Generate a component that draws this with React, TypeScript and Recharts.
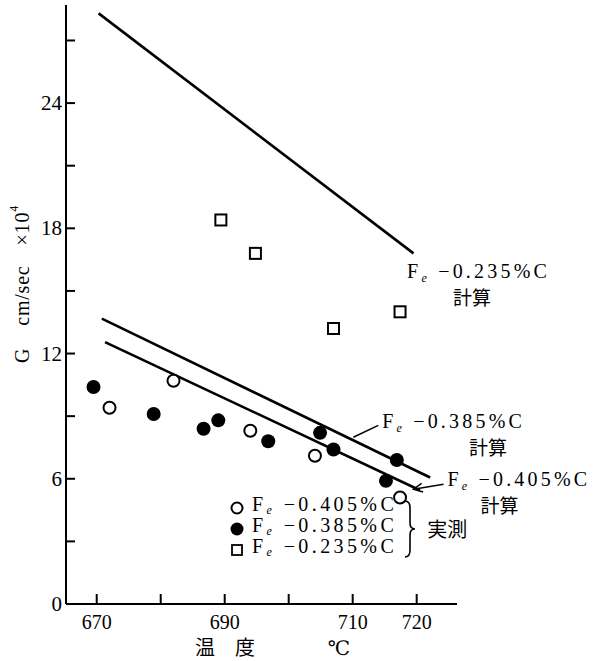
import React from 'react';
import {
  ComposedChart,
  Line,
  Scatter,
  XAxis,
  YAxis,
  ReferenceDot,
  ReferenceLine,
  Legend,
} from 'recharts';

const SERIF = "'Liberation Serif', 'DejaVu Serif', serif";
const CJK = "'Noto Sans CJK JP', 'Noto Sans CJK SC', sans-serif";

// axes (温度 °C / G cm/sec ×10^4)
const X_DOMAIN = [665.2, 726.3];
const Y_DOMAIN = [0, 28.7];
const X_TICKS = [670, 680, 690, 700, 710, 720];
const X_LABELED = [670, 690, 710, 720];
const Y_TICKS = [0, 3, 6, 9, 12, 15, 18, 21, 24, 27];
const Y_LABELED = [0, 6, 12, 18, 24];

// 実測 (measured)
const meas405 = [
  { t: 672.0, g: 9.4 },
  { t: 682.0, g: 10.7 },
  { t: 694.0, g: 8.3 },
  { t: 704.1, g: 7.1 },
  { t: 717.4, g: 5.1 },
];
const meas385 = [
  { t: 669.5, g: 10.4 },
  { t: 678.9, g: 9.1 },
  { t: 686.7, g: 8.4 },
  { t: 689.0, g: 8.8 },
  { t: 696.8, g: 7.8 },
  { t: 704.9, g: 8.2 },
  { t: 707.0, g: 7.4 },
  { t: 715.2, g: 5.9 },
  { t: 716.9, g: 6.9 },
];
const meas235 = [
  { t: 689.4, g: 18.4 },
  { t: 694.8, g: 16.8 },
  { t: 707.0, g: 13.2 },
  { t: 717.4, g: 14.0 },
];

// 計算 (calculated)
const calc235 = [{ t: 670.3, g: 28.3 }, { t: 719.5, g: 16.8 }];
const calc385 = [{ t: 670.8, g: 13.67 }, { t: 722.1, g: 6.06 }];
const calc405 = [{ t: 671.3, g: 12.55 }, { t: 720.5, g: 5.45 }];

// label anchors (left end of "Fe -x%C" text, on its baseline)
const LABELS = [
  { t: 718.5, g: 15.6, comp: '0.235', dx2: 65 },
  { t: 714.6, g: 8.43, comp: '0.385', dx2: 106 },
  { t: 724.8, g: 5.65, comp: '0.405', dx2: 52 },
];
const LEADER_385 = [{ x: 710.1, y: 7.99 }, { x: 714.0, y: 8.56 }];
const ARROW_405 = [{ x: 724.2, y: 5.74 }, { x: 719.5, y: 5.5 }];

const LEGEND_ORDER = ['0.405', '0.385', '0.235'];
const LEGEND_MARK: Record<string, string> = {
  '0.405': 'open',
  '0.385': 'filled',
  '0.235': 'square',
};

// plot box in px, only used to size the inward tick marks
const PLOT_W = 391;
const PLOT_H = 599;
const X_TICK_LEN = (10 / PLOT_H) * (Y_DOMAIN[1] - Y_DOMAIN[0]);
const Y_TICK_LEN = (9 / PLOT_W) * (X_DOMAIN[1] - X_DOMAIN[0]);

function OpenDot(p: any) {
  return <circle cx={p.cx} cy={p.cy} r={6} fill="#fff" stroke="#000" strokeWidth={2} />;
}
function FilledDot(p: any) {
  return <circle cx={p.cx} cy={p.cy} r={7} fill="#000" />;
}
function SquareDot(p: any) {
  return <rect x={p.cx - 5.5} y={p.cy - 5.5} width={11} height={11} fill="#fff" stroke="#000" strokeWidth={2} />;
}

function XTick(p: any) {
  const v = p.payload.value;
  if (!X_LABELED.includes(v)) return <g />;
  return (
    <text x={p.x} y={p.y + 25} textAnchor="middle" fontFamily={SERIF} fontSize={20} fill="#000">
      {v}
    </text>
  );
}

function YTick(p: any) {
  const v = p.payload.value;
  if (!Y_LABELED.includes(v)) return <g />;
  return (
    <text x={p.x - 4} y={p.y + 7} textAnchor="end" fontFamily={SERIF} fontSize={21} fill="#000">
      {v}
    </text>
  );
}

function CalcLabel(p: any) {
  const { viewBox, comp, dx2 } = p;
  const x = viewBox.x;
  const y = viewBox.y;
  return (
    <g>
      <text x={x} y={y} fontFamily={SERIF} fontSize={20} fill="#000" style={{ letterSpacing: 3.2 }}>
        F
        <tspan fontSize={12} dy={4} fontStyle="italic">e</tspan>
        <tspan dy={-4}> −{comp}%C</tspan>
      </text>
      <text x={x + dx2} y={y + 27} textAnchor="middle" fontFamily={CJK} fontSize={19} fill="#000">
        計算
      </text>
    </g>
  );
}

function ArrowShape(p: any) {
  const { x1, y1, x2, y2 } = p;
  const a = Math.atan2(y1 - y2, x1 - x2);
  const len = 10;
  const h1x = x2 + len * Math.cos(a + 0.45);
  const h1y = y2 + len * Math.sin(a + 0.45);
  const h2x = x2 + len * Math.cos(a - 0.45);
  const h2y = y2 + len * Math.sin(a - 0.45);
  return (
    <g stroke="#000" strokeWidth={1.5} fill="none">
      <line x1={x1} y1={y1} x2={x2} y2={y2} />
      <polyline points={`${h1x},${h1y} ${x2},${y2} ${h2x},${h2y}`} />
    </g>
  );
}

function YLabel(p: any) {
  const vb = p.viewBox;
  const cx = vb.x + 22;
  const cy = 284;
  return (
    <text
      x={cx}
      y={cy}
      transform={`rotate(-90 ${cx} ${cy})`}
      textAnchor="middle"
      dominantBaseline="central"
      fontFamily={SERIF}
      fontSize={20}
      fill="#000"
      style={{ letterSpacing: 0.8 }}
    >
      G
      <tspan dx={22}>cm/sec</tspan>
      <tspan dx={20}>×10</tspan>
      <tspan fontSize={12} dy={-8}>4</tspan>
    </text>
  );
}

function XLabel(p: any) {
  const vb = p.viewBox;
  const y = vb.y + 51;
  return (
    <g fontFamily={CJK} fontSize={20} fill="#000">
      <text x={225} y={y} textAnchor="middle">温　度</text>
      <text x={339} y={y} textAnchor="middle" fontFamily={SERIF}>℃</text>
    </g>
  );
}

function LegendMark({ kind }: { kind: string }) {
  return (
    <svg width={18} height={18} style={{ display: 'block' }}>
      {kind === 'open' && <circle cx={9} cy={9} r={5.5} fill="#fff" stroke="#000" strokeWidth={2} />}
      {kind === 'filled' && <circle cx={9} cy={9} r={6.5} fill="#000" />}
      {kind === 'square' && <rect x={4} y={4} width={10} height={10} fill="#fff" stroke="#000" strokeWidth={1.8} />}
    </svg>
  );
}

function renderLegend(props: any) {
  const items = (props.payload || [])
    .filter((e: any) => LEGEND_MARK[e.value])
    .sort((a: any, b: any) => LEGEND_ORDER.indexOf(a.value) - LEGEND_ORDER.indexOf(b.value));
  return (
    <div style={{ display: 'flex', alignItems: 'center', fontFamily: SERIF, color: '#000' }}>
      <div>
        {items.map((e: any) => (
          <div key={e.value} style={{ display: 'flex', alignItems: 'center', height: 21 }}>
            <LegendMark kind={LEGEND_MARK[e.value]} />
            <span style={{ fontSize: 20, letterSpacing: 3.4, marginLeft: 6, lineHeight: '21px' }}>
              F<sub style={{ fontSize: 12, fontStyle: 'italic', verticalAlign: -3 }}>e</sub> −{e.value}%C
            </span>
          </div>
        ))}
      </div>
      <svg width={14} height={60} style={{ marginLeft: 6 }}>
        <path
          d="M2,2 Q7,2 7,9 L7,24 Q7,30 12,30 Q7,30 7,36 L7,51 Q7,58 2,58"
          fill="none"
          stroke="#000"
          strokeWidth={1.6}
        />
      </svg>
      <span style={{ fontFamily: CJK, fontSize: 20, marginLeft: 10 }}>実測</span>
    </div>
  );
}

export default function App() {
  return (
    <div style={{ position: 'absolute', left: 0, top: 0, background: '#fff' }}>
      <ComposedChart width={601} height={661} margin={{ top: 5, right: 144, bottom: 0, left: 0 }}>
        <XAxis
          type="number"
          dataKey="t"
          domain={X_DOMAIN}
          allowDataOverflow
          ticks={X_TICKS}
          tick={<XTick />}
          tickLine={false}
          tickSize={0}
          tickMargin={0}
          axisLine={{ stroke: '#000', strokeWidth: 2 }}
          height={57}
          label={<XLabel />}
        />
        <YAxis
          type="number"
          dataKey="g"
          domain={Y_DOMAIN}
          allowDataOverflow
          ticks={Y_TICKS}
          tick={<YTick />}
          tickLine={false}
          tickSize={0}
          tickMargin={0}
          axisLine={{ stroke: '#000', strokeWidth: 2 }}
          width={66}
          label={<YLabel />}
        />

        {/* inward tick marks */}
        {X_TICKS.map(v => (
          <ReferenceLine
            key={`xt${v}`}
            segment={[{ x: v, y: Y_DOMAIN[0] }, { x: v, y: Y_DOMAIN[0] + X_TICK_LEN }]}
            stroke="#000"
            strokeWidth={2}
            ifOverflow="visible"
          />
        ))}
        {Y_TICKS.filter(v => v > 0).map(v => (
          <ReferenceLine
            key={`yt${v}`}
            segment={[{ x: X_DOMAIN[0], y: v }, { x: X_DOMAIN[0] + Y_TICK_LEN, y: v }]}
            stroke="#000"
            strokeWidth={2}
            ifOverflow="visible"
          />
        ))}

        <Line data={calc235} dataKey="g" stroke="#000" strokeWidth={2.6} dot={false} legendType="none" isAnimationActive={false} />
        <Line data={calc385} dataKey="g" stroke="#000" strokeWidth={2.6} dot={false} legendType="none" isAnimationActive={false} />
        <Line data={calc405} dataKey="g" stroke="#000" strokeWidth={2.6} dot={false} legendType="none" isAnimationActive={false} />

        <Scatter name="0.405" data={meas405} dataKey="g" shape={<OpenDot />} isAnimationActive={false} />
        <Scatter name="0.385" data={meas385} dataKey="g" shape={<FilledDot />} isAnimationActive={false} />
        <Scatter name="0.235" data={meas235} dataKey="g" shape={<SquareDot />} isAnimationActive={false} />

        <ReferenceLine segment={LEADER_385} stroke="#000" strokeWidth={1.5} />
        <ReferenceLine segment={ARROW_405} shape={<ArrowShape />} />

        {LABELS.map(l => (
          <ReferenceDot
            key={l.comp}
            x={l.t}
            y={l.g}
            r={0}
            fill="none"
            stroke="none"
            label={<CalcLabel comp={l.comp} dx2={l.dx2} />}
          />
        ))}

        <Legend
          layout="vertical"
          align="center"
          verticalAlign="middle"
          content={renderLegend}
          wrapperStyle={{ position: 'absolute', left: 228, top: 497, width: 'auto', height: 'auto' }}
        />
      </ComposedChart>
    </div>
  );
}
